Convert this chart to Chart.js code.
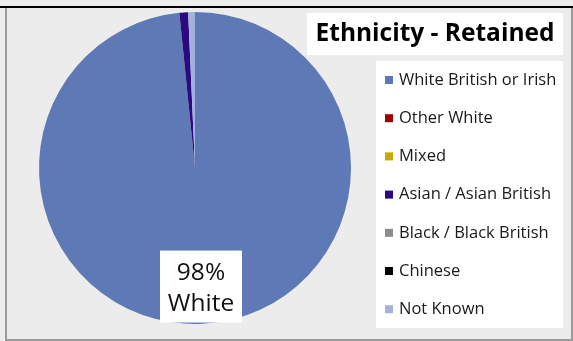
<!DOCTYPE html>
<html>
<head>
<meta charset="utf-8">
<script src="https://cdn.jsdelivr.net/npm/chart.js@4"></script>
<style>
  html, body { margin: 0; padding: 0; background: #ebeceb; }
  #wrap { position: relative; width: 573px; height: 341px; }
</style>
</head>
<body>
<div id="wrap"><canvas id="chart" width="573" height="341"></canvas></div>
<script>
const title = 'Ethnicity - Retained'
const categories = ['White British or Irish', 'Other White', 'Mixed', 'Asian / Asian British', 'Black / Black British', 'Chinese', 'Not Known']
const shares = [98.4, 0, 0, 0.9, 0, 0, 0.7]
const colors = ['#5e79b5', '#a00000', '#c9a800', '#2b0a80', '#8c8c8c', '#000000', '#a2b2dc']
const labelName = 'White'

const FONT = '"Open Sans", "Liberation Sans", Arial, sans-serif'

// frame, title box, legend box and the big-slice label
const decorations = {
  id: 'decorations',
  beforeDraw(chart) {
    const ctx = chart.ctx
    ctx.save()
    ctx.fillStyle = '#ebeceb'
    ctx.fillRect(0, 0, chart.width, chart.height)
    ctx.fillStyle = '#000'
    ctx.fillRect(0, 6, chart.width, 2)
    ctx.fillStyle = '#9a9a9a'
    ctx.fillRect(5, 8, 2, 333)
    ctx.fillRect(7, 339, 566, 2)
    ctx.fillRect(571, 8, 2, 333)
    ctx.restore()
  },
  afterDraw(chart) {
    const ctx = chart.ctx
    const data = chart.data.datasets[0].data
    const bg = chart.data.datasets[0].backgroundColor
    ctx.save()

    // title
    ctx.fillStyle = '#fff'
    ctx.fillRect(307, 13, 256, 42)
    ctx.fillStyle = '#000'
    ctx.font = 'bold 24.5px ' + FONT
    ctx.textAlign = 'center'
    ctx.textBaseline = 'middle'
    ctx.fillText(title, 435, 34)

    // legend
    ctx.fillStyle = '#fff'
    ctx.fillRect(376, 61, 187, 267)
    ctx.font = '16.5px ' + FONT
    ctx.textAlign = 'left'
    chart.data.labels.forEach((lab, i) => {
      const y = 80 + i * 38.2
      ctx.fillStyle = bg[i]
      ctx.fillRect(385, y - 4, 8, 8)
      ctx.fillStyle = '#1a1a1a'
      ctx.fillText(lab, 399, y)
    })

    // percentage label on the largest slice
    const arc = chart.getDatasetMeta(0).data[0]
    const total = data.reduce((a, b) => a + b, 0)
    const pct = Math.round(data[0] / total * 100) + '%'
    const cx = arc.x + 6
    const cy = arc.y + arc.outerRadius * 0.76
    ctx.fillStyle = '#fff'
    ctx.fillRect(cx - 41, cy - 36, 82, 72)
    ctx.fillStyle = '#111'
    ctx.font = '24.5px ' + FONT
    ctx.textAlign = 'center'
    ctx.fillText(pct, cx, cy - 14)
    ctx.fillText(labelName, cx, cy + 17)
    ctx.restore()
  }
}

new Chart(document.getElementById('chart'), {
  type: 'pie',
  data: {
    labels: categories,
    datasets: [{
      data: shares,
      backgroundColor: colors,
      borderWidth: 0
    }]
  },
  options: {
    responsive: false,
    animation: false,
    rotation: 0,
    layout: { padding: { left: 39, right: 222, top: 12, bottom: 17 } },
    plugins: {
      legend: { display: false },
      title: { display: false },
      tooltip: { enabled: false }
    }
  },
  plugins: [decorations]
})
</script>
</body>
</html>
